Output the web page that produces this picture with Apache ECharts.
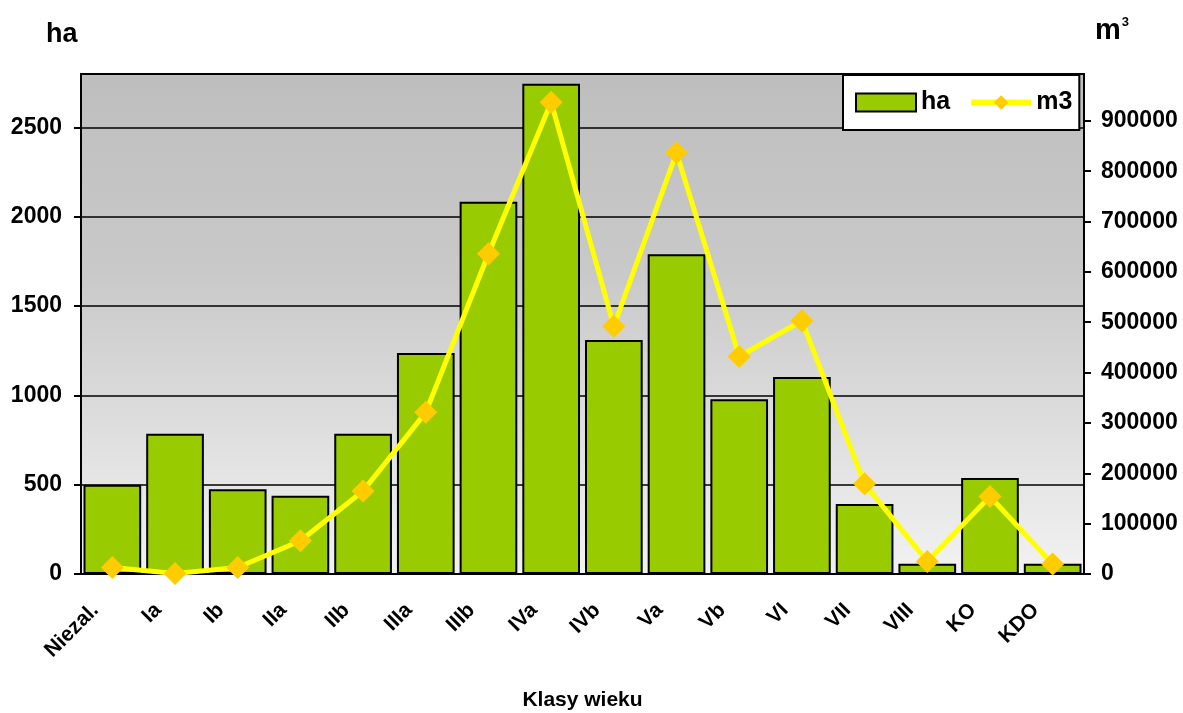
<!DOCTYPE html>
<html>
<head>
<meta charset="utf-8">
<script src="https://cdn.jsdelivr.net/npm/echarts@6/dist/echarts.min.js"></script>
<style>
  html, body { margin: 0; padding: 0; background: #fff; }
  #main { width: 1183px; height: 713px; }
</style>
</head>
<body>
<div id="main"></div>
<script>
var categories = ['Niezal.', 'Ia', 'Ib', 'IIa', 'IIb', 'IIIa', 'IIIb', 'IVa', 'IVb', 'Va', 'Vb', 'VI', 'VII', 'VIII', 'KO', 'KDO'];
var haValues = [500, 785, 475, 438, 785, 1237, 2084, 2746, 1310, 1790, 978, 1103, 392, 58, 537, 58];
var m3Values = [13000, 1000, 13000, 66000, 165000, 321000, 636000, 937000, 492000, 837000, 432000, 503000, 179000, 25000, 154000, 20000];

var font = 'Liberation Sans, Arial, sans-serif';
var myChart = echarts.init(document.getElementById('main'));
var option = {
    animation: false,
    backgroundColor: '#ffffff',
    textStyle: { fontFamily: font },
    grid: {
        left: 81,
        right: 99,
        top: 74,
        bottom: 139,
        outerBoundsMode: 'none',
        containLabel: false,
        show: true,
        borderColor: '#000',
        borderWidth: 2,
        backgroundColor: new echarts.graphic.LinearGradient(0, 0, 0, 1, [
            { offset: 0, color: '#bebebe' },
            { offset: 0.4, color: '#c9c9c9' },
            { offset: 1, color: '#f2f2f2' }
        ])
    },
    legend: {
        left: 843,
        top: 75,
        padding: [15, 7, 15, 12],
        backgroundColor: '#fff',
        borderColor: '#000',
        borderWidth: 2,
        borderRadius: 0,
        itemWidth: 60,
        itemHeight: 18,
        itemGap: 18,
        textStyle: { fontFamily: font, fontWeight: 'bold', fontSize: 25, color: '#000' },
        data: [
            { name: 'ha', icon: 'rect' },
            { name: 'm3', lineStyle: { width: 6 } }
        ]
    },
    graphic: [
        {
            type: 'text', left: 46, top: 21,
            style: { text: 'ha', font: 'bold 27px ' + font, fill: '#000' }
        },
        {
            type: 'text', left: 1095, top: 16,
            style: {
                text: '{a|m}{b|3}',
                rich: {
                    a: { font: 'bold 29px ' + font, fill: '#000' },
                    b: { font: 'bold 13px ' + font, fill: '#000', verticalAlign: 'top', padding: [0, 0, 16, 1] }
                }
            }
        }
    ],
    xAxis: {
        type: 'category',
        data: categories,
        name: 'Klasy wieku',
        nameLocation: 'middle',
        nameGap: 116,
        nameTextStyle: { fontFamily: font, fontWeight: 'bold', fontSize: 21, color: '#000' },
        axisLine: { lineStyle: { color: '#000', width: 2 } },
        axisTick: { length: 7, lineStyle: { color: '#000', width: 2 } },
        axisLabel: {
            rotate: 45, margin: 16, padding: [0, 24, 0, 0],
            fontFamily: font, fontWeight: 'bold', fontSize: 21, color: '#000', interval: 0
        }
    },
    yAxis: [
        {
            type: 'value',
            min: 0,
            max: 2800,
            interval: 500,
            axisLine: { show: true, lineStyle: { color: '#000', width: 2 } },
            axisTick: { show: true, length: 7, lineStyle: { color: '#000', width: 2 } },
            axisLabel: {
                showMaxLabel: false, margin: 19, fontFamily: font, fontWeight: 'bold', fontSize: 23, color: '#000',
                formatter: function (v) { return String(v); }
            },
            splitLine: { show: true, lineStyle: { color: '#000', width: 1.5 } }
        },
        {
            type: 'value',
            min: 0,
            max: 993000,
            interval: 100000,
            position: 'right',
            axisLine: { show: true, lineStyle: { color: '#000', width: 2 } },
            axisTick: { show: true, length: 7, lineStyle: { color: '#000', width: 2 } },
            axisLabel: {
                showMaxLabel: false, margin: 17, fontFamily: font, fontWeight: 'bold', fontSize: 23, color: '#000',
                formatter: function (v) { return String(v); }
            },
            splitLine: { show: false }
        }
    ],
    series: [
        {
            name: 'ha',
            type: 'bar',
            yAxisIndex: 0,
            data: haValues,
            barCategoryGap: '8%',
            itemStyle: { color: '#99cc00', borderColor: '#000', borderWidth: 2 }
        },
        {
            name: 'm3',
            type: 'line',
            yAxisIndex: 1,
            data: m3Values,
            symbol: 'diamond',
            symbolSize: 23,
            lineStyle: { color: '#ffff00', width: 5 },
            itemStyle: { color: '#ffcc00' }
        }
    ]
};
myChart.setOption(option);
</script>
</body>
</html>
